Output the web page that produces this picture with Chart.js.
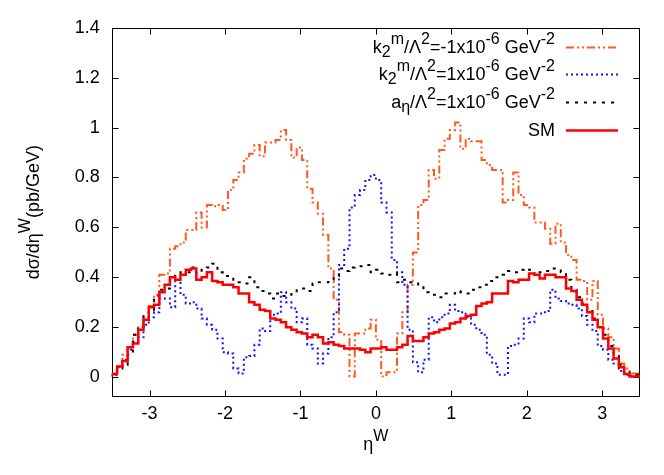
<!DOCTYPE html>
<html>
<head>
<meta charset="utf-8">
<script src="https://cdn.jsdelivr.net/npm/chart.js@4.4.0/dist/chart.umd.min.js"></script>
<style>
html, body { margin: 0; padding: 0; background: #fff; }
</style>
</head>
<body>
<canvas id="myChart" width="664" height="475"></canvas>
<script>
// histogram bins: 100 bins of width 0.07 from -3.5 to 3.5
var binStart = -3.5;
var binWidth = 0.07;

var smValues = [
    0.003, 0.012, 0.043, 0.065, 0.12, 0.135, 0.19, 0.23, 0.28, 0.29,
    0.34, 0.37, 0.40, 0.39, 0.41, 0.43, 0.435, 0.39, 0.40, 0.42,
    0.385, 0.38, 0.37, 0.37, 0.36, 0.335, 0.335, 0.30, 0.29, 0.27,
    0.265, 0.235, 0.23, 0.22, 0.20, 0.19, 0.18, 0.175, 0.16, 0.17,
    0.16, 0.135, 0.14, 0.13, 0.125, 0.115, 0.115, 0.115, 0.11, 0.10,
    0.115, 0.115, 0.12, 0.11, 0.11, 0.12, 0.13, 0.165, 0.145, 0.145,
    0.16, 0.175, 0.18, 0.19, 0.195, 0.215, 0.22, 0.235, 0.245, 0.25,
    0.285, 0.295, 0.30, 0.335, 0.335, 0.335, 0.385, 0.38, 0.39, 0.39,
    0.415, 0.41, 0.395, 0.41, 0.41, 0.40, 0.40, 0.355, 0.345, 0.31,
    0.29, 0.26, 0.23, 0.20, 0.155, 0.115, 0.075, 0.04, 0.013, 0.003
];

var k2mMinusValues = [
    0.003, 0.015, 0.045, 0.09, 0.12, 0.17, 0.20, 0.24, 0.285, 0.33,
    0.41, 0.415, 0.515, 0.525, 0.54, 0.59, 0.59, 0.66, 0.60, 0.69,
    0.685, 0.69, 0.67, 0.75, 0.79, 0.82, 0.875, 0.895, 0.93, 0.885,
    0.94, 0.94, 0.95, 0.99, 0.95, 0.88, 0.92, 0.87, 0.755, 0.70,
    0.655, 0.57, 0.435, 0.31, 0.18, 0.17, 0.003, 0.175, 0.175, 0.195,
    0.23, 0.15, 0.003, 0.02, 0.02, 0.175, 0.26, 0.37, 0.50, 0.69,
    0.71, 0.83, 0.795, 0.91, 0.955, 0.99, 1.02, 0.915, 0.955, 0.945,
    0.945, 0.87, 0.85, 0.83, 0.83, 0.70, 0.71, 0.82, 0.73, 0.69,
    0.68, 0.62, 0.62, 0.595, 0.535, 0.615, 0.54, 0.49, 0.47, 0.39,
    0.385, 0.31, 0.385, 0.25, 0.195, 0.16, 0.115, 0.055, 0.035, 0.015
];

var k2mPlusValues = [
    0.003, 0.01, 0.04, 0.07, 0.11, 0.14, 0.16, 0.21, 0.24, 0.26,
    0.315, 0.315, 0.28, 0.39, 0.33, 0.295, 0.30, 0.275, 0.235, 0.21,
    0.19, 0.155, 0.10, 0.095, 0.035, 0.015, 0.08, 0.085, 0.13, 0.195,
    0.185, 0.25, 0.255, 0.34, 0.30, 0.275, 0.22, 0.235, 0.13, 0.115,
    0.055, 0.095, 0.16, 0.26, 0.45, 0.515, 0.68, 0.73, 0.75, 0.79,
    0.81, 0.79, 0.70, 0.66, 0.47, 0.42, 0.37, 0.19, 0.06, 0.02,
    0.07, 0.24, 0.22, 0.24, 0.255, 0.29, 0.265, 0.26, 0.24, 0.21,
    0.19, 0.17, 0.09, 0.055, 0.01, 0.01, 0.125, 0.13, 0.155, 0.235,
    0.22, 0.255, 0.255, 0.265, 0.35, 0.315, 0.305, 0.295, 0.29, 0.275,
    0.245, 0.21, 0.185, 0.125, 0.11, 0.07, 0.055, 0.025, 0.01, 0.005
];

var anValues = [
    0.003, 0.01, 0.035, 0.05, 0.09, 0.17, 0.195, 0.255, 0.26, 0.325,
    0.35, 0.355, 0.39, 0.415, 0.42, 0.42, 0.44, 0.415, 0.435, 0.44,
    0.455, 0.42, 0.405, 0.405, 0.39, 0.38, 0.375, 0.40, 0.36, 0.345,
    0.335, 0.315, 0.335, 0.325, 0.33, 0.34, 0.355, 0.355, 0.345, 0.375,
    0.38, 0.38, 0.39, 0.405, 0.435, 0.425, 0.44, 0.445, 0.445, 0.45,
    0.42, 0.43, 0.415, 0.41, 0.415, 0.38, 0.39, 0.38, 0.38, 0.36,
    0.34, 0.335, 0.33, 0.32, 0.335, 0.335, 0.345, 0.34, 0.335, 0.35,
    0.36, 0.37, 0.385, 0.40, 0.40, 0.41, 0.425, 0.42, 0.43, 0.435,
    0.43, 0.41, 0.42, 0.425, 0.435, 0.435, 0.42, 0.39, 0.35, 0.32,
    0.295, 0.265, 0.235, 0.20, 0.17, 0.125, 0.095, 0.05, 0.02, 0.01
];

var xTicks = [-3, -2, -1, 0, 1, 2, 3];
var yTicks = [0, 0.2, 0.4, 0.6, 0.8, 1, 1.2, 1.4];
var yTickLabels = ['0', '0.2', '0.4', '0.6', '0.8', '1', '1.2', '1.4'];

// legend texts as [text, kind] pieces: 0 normal, 1 superscript, -1 subscript
var legendTexts = [
    [['k', 0], ['2', -1], ['m', 1], ['/\u039B', 0], ['2', 1], ['=-1x10', 0], ['-6', 1], [' GeV', 0], ['-2', 1]],
    [['k', 0], ['2', -1], ['m', 1], ['/\u039B', 0], ['2', 1], ['=1x10', 0], ['-6', 1], [' GeV', 0], ['-2', 1]],
    [['a', 0], ['\u03B7', -1], ['/\u039B', 0], ['2', 1], ['=1x10', 0], ['-6', 1], [' GeV', 0], ['-2', 1]],
    [['SM', 0]]
];
var xTitle = [['\u03B7', 0], ['W', 1]];
var yTitle = [['d\u03C3/d\u03B7', 0], ['W', 1], ['(pb/GeV)', 0]];

var FONT = "'Liberation Sans', Arial, sans-serif";
var FS = 18;
var SFS = 16;

function toSteps(vals) {
    var pts = vals.map(function(v, i) {
        return { x: binStart + i * binWidth, y: v };
    });
    pts.push({ x: binStart + vals.length * binWidth, y: vals[vals.length - 1] });
    return pts;
}

function pieceFont(kind) {
    return (kind === 0 ? FS : SFS) + 'px ' + FONT;
}

function richWidth(ctx, parts) {
    var w = 0;
    parts.forEach(function(p) {
        ctx.font = pieceFont(p[1]);
        w += ctx.measureText(p[0]).width;
    });
    return w;
}

function drawRich(ctx, parts, x, y) {
    // x = left edge, y = alphabetic baseline
    var cx = x;
    parts.forEach(function(p) {
        ctx.font = pieceFont(p[1]);
        var dy = p[1] === 1 ? -9 : (p[1] === -1 ? 4 : 0);
        ctx.fillText(p[0], cx, y + dy);
        cx += ctx.measureText(p[0]).width;
    });
}

var gnuplotDecor = {
    id: 'gnuplotDecor',
    beforeDatasetsDraw: function(chart) {
        var ctx = chart.ctx;
        var a = chart.chartArea;
        var xs = chart.scales.x, ys = chart.scales.y;
        var L = Math.round(a.left) + 0.5, R = Math.round(a.right) - 0.5;
        var T = Math.round(a.top) + 0.5, B = Math.round(a.bottom) - 0.5;
        ctx.save();
        ctx.strokeStyle = '#000';
        ctx.lineWidth = 1;
        ctx.strokeRect(L, T, R - L, B - T);
        ctx.beginPath();
        xTicks.forEach(function(v) {
            var px = Math.round(xs.getPixelForValue(v)) + 0.5;
            ctx.moveTo(px, B); ctx.lineTo(px, B - 6);
            ctx.moveTo(px, T); ctx.lineTo(px, T + 6);
        });
        yTicks.forEach(function(v) {
            var py = Math.round(ys.getPixelForValue(v)) + 0.5;
            ctx.moveTo(L, py); ctx.lineTo(L + 6, py);
            ctx.moveTo(R, py); ctx.lineTo(R - 6, py);
        });
        ctx.stroke();
        ctx.restore();
    },
    afterDatasetsDraw: function(chart) {
        var ctx = chart.ctx;
        var a = chart.chartArea;
        ctx.save();
        ctx.fillStyle = '#000';
        ctx.textBaseline = 'alphabetic';
        ctx.textAlign = 'left';

        // x axis title
        var xw = richWidth(ctx, xTitle);
        drawRich(ctx, xTitle, (a.left + a.right) / 2 - xw / 2, 450);

        // y axis title, rotated
        ctx.save();
        ctx.translate(39, (a.top + a.bottom) / 2);
        ctx.rotate(-Math.PI / 2);
        var yw = richWidth(ctx, yTitle);
        drawRich(ctx, yTitle, -yw / 2, 0);
        ctx.restore();

        // key, top right
        var rowY = [46.5, 74.3, 102, 129.7];
        chart.data.datasets.forEach(function(ds, i) {
            var parts = legendTexts[i];
            var w = richWidth(ctx, parts);
            ctx.fillStyle = '#000';
            drawRich(ctx, parts, 555 - w, rowY[i] + 6);
            ctx.save();
            ctx.strokeStyle = ds.borderColor;
            ctx.lineWidth = ds.borderWidth;
            ctx.setLineDash(ds.borderDash || []);
            ctx.beginPath();
            ctx.moveTo(566, Math.round(rowY[i]) + 0.5);
            ctx.lineTo(618, Math.round(rowY[i]) + 0.5);
            ctx.stroke();
            ctx.restore();
        });
        ctx.restore();
    }
};

var ctx = document.getElementById('myChart').getContext('2d');
var myChart = new Chart(ctx, {
    type: 'line',
    data: {
        datasets: [{
            label: 'k2m/L2=-1x10-6',
            data: toSteps(k2mMinusValues),
            borderColor: '#ff5a1e',
            borderWidth: 2,
            borderDash: [8, 3, 2, 3, 2, 3],
            stepped: 'after',
            order: 3
        }, {
            label: 'k2m/L2=1x10-6',
            data: toSteps(k2mPlusValues),
            borderColor: '#1010ff',
            borderWidth: 2,
            borderDash: [2, 3],
            stepped: 'after',
            order: 2
        }, {
            label: 'an/L2=1x10-6',
            data: toSteps(anValues),
            borderColor: '#000000',
            borderWidth: 2,
            borderDash: [3, 6],
            stepped: 'after',
            order: 1
        }, {
            label: 'SM',
            data: toSteps(smValues),
            borderColor: '#ff0000',
            borderWidth: 2.5,
            stepped: 'after',
            order: 0
        }]
    },
    options: {
        responsive: false,
        animation: false,
        layout: {
            padding: { left: 0, right: 24, top: 27.7, bottom: 0 }
        },
        elements: {
            point: { radius: 0 },
            line: { tension: 0, fill: false }
        },
        plugins: {
            legend: { display: false },
            tooltip: { enabled: false }
        },
        scales: {
            x: {
                type: 'linear',
                min: -3.5,
                max: 3.5,
                grid: { display: false, drawTicks: false },
                border: { display: false },
                afterBuildTicks: function(scale) {
                    scale.ticks = xTicks.map(function(v) { return { value: v }; });
                },
                afterFit: function(scale) {
                    scale.height = 78.3;
                },
                ticks: {
                    color: '#000',
                    padding: 7,
                    maxRotation: 0,
                    autoSkip: false,
                    font: { family: FONT, size: FS },
                    callback: function(value) {
                        return String(value);
                    }
                }
            },
            y: {
                type: 'linear',
                min: -0.078,
                max: 1.4,
                grid: { display: false, drawTicks: false },
                border: { display: false },
                afterBuildTicks: function(scale) {
                    scale.ticks = yTicks.map(function(v) { return { value: v }; });
                },
                afterFit: function(scale) {
                    scale.width = 111.8;
                },
                ticks: {
                    color: '#000',
                    padding: 12,
                    autoSkip: false,
                    font: { family: FONT, size: FS },
                    callback: function(value, index) {
                        return yTickLabels[index];
                    }
                }
            }
        }
    },
    plugins: [gnuplotDecor]
});
</script>
</body>
</html>
